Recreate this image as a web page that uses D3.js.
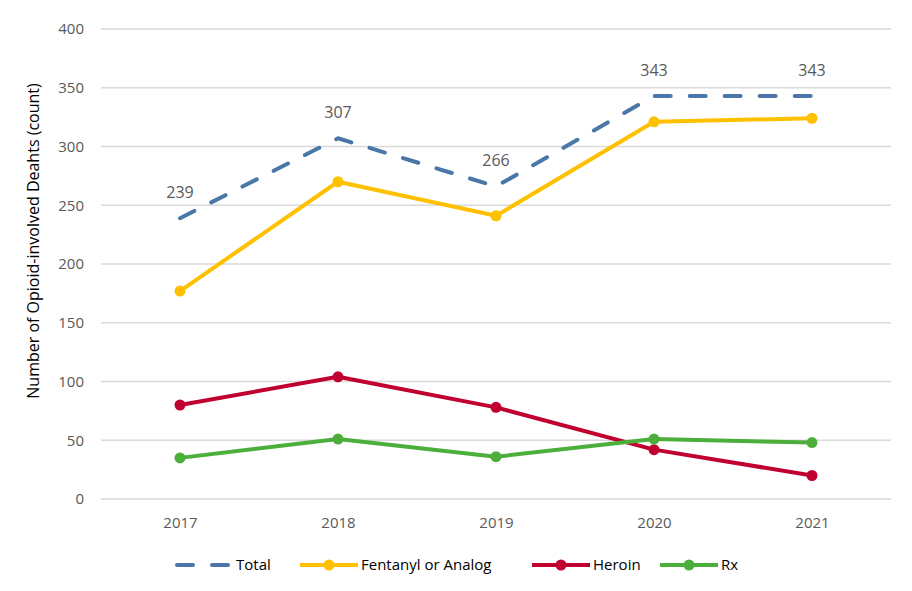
<!DOCTYPE html>
<html>
<head>
<meta charset="utf-8">
<script src="https://cdn.jsdelivr.net/npm/d3@7"></script>
<style>
  body { margin: 0; background: #fff; }
  text { font-family: "Open Sans", sans-serif; fill: #595959; }
</style>
</head>
<body>
<svg id="chart" width="912" height="591"></svg>
<script>
// data
const years = ["2017", "2018", "2019", "2020", "2021"];
const total = [239, 307, 266, 343, 343];
const fentanyl = [177, 270, 241, 321, 324];
const heroin = [80, 104, 78, 42, 20];
const rx = [35, 51, 36, 51, 48];
const yTicks = [0, 50, 100, 150, 200, 250, 300, 350, 400];

const series = [
  { name: "Total", values: total, color: "#4a76a8", dashed: true },
  { name: "Fentanyl or Analog", values: fentanyl, color: "#ffc000" },
  { name: "Heroin", values: heroin, color: "#c0002f" },
  { name: "Rx", values: rx, color: "#4caf3c" }
];

const svg = d3.select("#chart");
const plotL = 101, plotR = 891, plotT = 29, plotB = 499;

const x = d3.scalePoint().domain(years).range([plotL, plotR]).padding(0.5);
const y = d3.scaleLinear().domain([0, 400]).range([plotB, plotT]);

// gridlines
svg.append("g")
  .selectAll("line")
  .data(yTicks)
  .enter().append("line")
  .attr("x1", plotL).attr("x2", plotR)
  .attr("y1", d => y(d)).attr("y2", d => y(d))
  .attr("stroke", "#d9d9d9")
  .attr("stroke-width", 1.3);

// y axis labels
const yAxis = svg.append("g")
  .attr("transform", `translate(${plotL - 17},0)`)
  .call(d3.axisLeft(y).tickValues(yTicks).tickSize(0).tickPadding(0));
yAxis.select(".domain").remove();
yAxis.selectAll("text").style("font-size", "15px").attr("fill", "#595959");

// x axis labels
const xAxis = svg.append("g")
  .attr("transform", `translate(0,${plotB + 14})`)
  .call(d3.axisBottom(x).tickSize(0).tickPadding(4));
xAxis.select(".domain").remove();
xAxis.selectAll("text").style("font-size", "15px").attr("fill", "#595959");

svg.append("text")
  .attr("transform", "translate(39,241) rotate(-90)")
  .attr("text-anchor", "middle")
  .style("font-size", "16px")
  .style("fill", "#000")
  .text("Number of Opioid-involved Deahts (count)");

const line = d3.line().x((d, i) => x(years[i])).y(d => y(d));

series.forEach(s => {
  svg.append("path")
    .datum(s.values)
    .attr("d", line)
    .attr("fill", "none")
    .attr("stroke", s.color)
    .attr("stroke-width", 4)
    .attr("stroke-linecap", s.dashed ? "round" : "butt")
    .attr("stroke-linejoin", "round")
    .attr("stroke-dasharray", s.dashed ? "16,19" : null);
  if (!s.dashed) {
    svg.append("g").selectAll("circle")
      .data(s.values)
      .enter().append("circle")
      .attr("cx", (d, i) => x(years[i]))
      .attr("cy", d => y(d))
      .attr("r", 5.5)
      .attr("fill", s.color);
  }
});

// total labels
svg.append("g").selectAll("text")
  .data(total)
  .enter().append("text")
  .attr("x", (d, i) => x(years[i]))
  .attr("y", d => y(d) - 20)
  .attr("text-anchor", "middle")
  .style("font-size", "16px")
  .text(d => d);

// legend
const legendX = [175, 300, 532, 660];
const lg = svg.append("g").attr("transform", "translate(0,565)");
series.forEach((s, i) => {
  const g = lg.append("g").attr("transform", `translate(${legendX[i]},0)`);
  g.append("line")
    .attr("x1", s.dashed ? 2 : 0).attr("x2", 58)
    .attr("stroke", s.color)
    .attr("stroke-width", 4)
    .attr("stroke-linecap", s.dashed ? "round" : "butt")
    .attr("stroke-dasharray", s.dashed ? "16,19" : null);
  if (!s.dashed) {
    g.append("circle").attr("cx", 29).attr("r", 5.5).attr("fill", s.color);
  }
  g.append("text")
    .attr("x", 61)
    .attr("dy", "0.35em")
    .style("font-size", "15px")
    .style("fill", "#000")
    .text(s.name);
});
</script>
</body>
</html>
